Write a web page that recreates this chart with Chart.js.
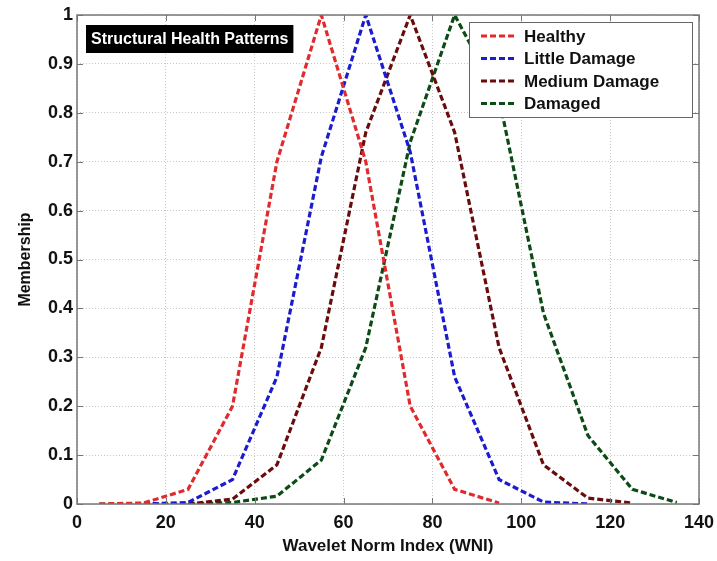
<!DOCTYPE html>
<html>
<head>
<meta charset="utf-8">
<script src="https://cdn.jsdelivr.net/npm/chart.js@4.4.0/dist/chart.umd.min.js"></script>
<style>
  html, body { margin: 0; padding: 0; background: #fff; }
  #wrap { width: 717px; height: 561px; }
</style>
</head>
<body>
<div id="wrap"><canvas id="myChart" width="717" height="561"></canvas></div>
<script>
// wavelet norm index sample points
const wni = [5, 15, 25, 35, 45, 55, 65, 75, 85, 95, 105, 115, 125, 135];

const healthy = [0, 0.002, 0.03, 0.2, 0.7, 1, 0.7, 0.2, 0.03, 0.002, null, null, null, null];
const littleDamage = [null, 0, 0.003, 0.05, 0.26, 0.71, 1, 0.72, 0.26, 0.05, 0.004, 0, null, null];
const mediumDamage = [null, null, 0, 0.01, 0.08, 0.32, 0.76, 1, 0.76, 0.32, 0.08, 0.012, 0.002, null];
const damaged = [0, 0, 0, 0.003, 0.016, 0.09, 0.32, 0.74, 1, 0.83, 0.39, 0.14, 0.03, 0.003];

const seriesNames = ['Healthy', 'Little Damage', 'Medium Damage', 'Damaged'];
const seriesColors = ['#e12a2c', '#1c1ccf', '#6a0c0c', '#0c4a16'];

const FONT = "'Liberation Sans', Arial, sans-serif";

function toPoints(arr) {
  const pts = [];
  arr.forEach((v, i) => { if (v !== null) pts.push({x: wni[i], y: v}); });
  return pts;
}

const datasets = [healthy, littleDamage, mediumDamage, damaged].map((arr, i) => ({
  label: seriesNames[i],
  data: toPoints(arr),
  borderColor: seriesColors[i],
  backgroundColor: seriesColors[i],
  borderWidth: 3.2,
  borderDash: [6, 3],
  pointRadius: 0,
  tension: 0,
  fill: false
}));

// frame, inward ticks, title box and legend, drawn on top
const overlay = {
  id: 'overlay',
  afterDraw(chart) {
    const ctx = chart.ctx;
    const a = chart.chartArea;
    const xs = chart.scales.x, ys = chart.scales.y;
    ctx.save();
    // inward tick marks
    ctx.strokeStyle = '#777';
    ctx.lineWidth = 1;
    ctx.setLineDash([]);
    ctx.beginPath();
    xs.ticks.forEach(t => {
      const px = Math.round(xs.getPixelForValue(t.value)) + 0.5;
      ctx.moveTo(px, a.bottom); ctx.lineTo(px, a.bottom - 6);
      ctx.moveTo(px, a.top); ctx.lineTo(px, a.top + 6);
    });
    ys.ticks.forEach(t => {
      const py = Math.round(ys.getPixelForValue(t.value)) + 0.5;
      ctx.moveTo(a.left, py); ctx.lineTo(a.left + 6, py);
      ctx.moveTo(a.right, py); ctx.lineTo(a.right - 6, py);
    });
    ctx.stroke();
    // frame
    ctx.strokeStyle = '#777';
    ctx.lineWidth = 1.5;
    ctx.strokeRect(a.left, a.top, a.right - a.left, a.bottom - a.top);

    // title box
    ctx.font = 'bold 16px ' + FONT;
    const title = 'Structural Health Patterns';
    const tw = ctx.measureText(title).width;
    ctx.fillStyle = '#000';
    ctx.fillRect(86, 25, tw + 10, 28);
    ctx.fillStyle = '#fff';
    ctx.textBaseline = 'middle';
    ctx.fillText(title, 91, 40);

    // legend
    const lx = 469, ly = 22, lw = 223, lh = 95;
    ctx.fillStyle = '#fff';
    ctx.fillRect(lx, ly, lw, lh);
    ctx.strokeStyle = '#666';
    ctx.lineWidth = 1;
    ctx.strokeRect(lx + 0.5, ly + 0.5, lw, lh);
    ctx.font = 'bold 17px ' + FONT;
    chart.data.datasets.forEach((ds, i) => {
      const y = ly + 14 + i * 22.5;
      ctx.strokeStyle = ds.borderColor;
      ctx.lineWidth = 3.2;
      ctx.setLineDash([6, 3]);
      ctx.beginPath();
      ctx.moveTo(lx + 12, y); ctx.lineTo(lx + 45, y);
      ctx.stroke();
      ctx.setLineDash([]);
      ctx.fillStyle = '#111';
      ctx.fillText(ds.label, lx + 55, y + 1);
    });
    ctx.restore();
  }
};

new Chart(document.getElementById('myChart').getContext('2d'), {
  type: 'line',
  data: { datasets: datasets },
  plugins: [overlay],
  options: {
    responsive: false,
    animation: false,
    layout: { padding: { top: 15, right: 0, left: 12, bottom: 0 } },
    plugins: { legend: { display: false }, tooltip: { enabled: false } },
    scales: {
      x: {
        type: 'linear',
        min: 0, max: 140,
        ticks: { stepSize: 20, color: '#111', font: { family: FONT, size: 18, weight: 'bold' }, padding: 8, maxRotation: 0 },
        grid: { color: '#c8c8c8', lineWidth: 1, drawTicks: false },
        border: { display: false, dash: [1, 2] },
        title: { display: true, text: 'Wavelet Norm Index (WNI)', color: '#111', font: { family: FONT, size: 17, weight: 'bold' }, padding: { top: 3 } },
        afterFit(s) { s.height = 57; s.paddingRight = 18; s.paddingLeft = 0; }
      },
      y: {
        min: 0, max: 1,
        ticks: {
          stepSize: 0.1, color: '#111', padding: 4,
          font: { family: FONT, size: 18, weight: 'bold' },
          callback: v => String(Number(v.toFixed(1)))
        },
        grid: { color: '#c8c8c8', lineWidth: 1, drawTicks: false },
        border: { display: false, dash: [1, 2] },
        title: { display: true, text: 'Membership', color: '#111', font: { family: FONT, size: 16, weight: 'bold' }, padding: { bottom: 4 } },
        afterFit(s) { s.width = 65; }
      }
    }
  }
});
</script>
</body>
</html>
